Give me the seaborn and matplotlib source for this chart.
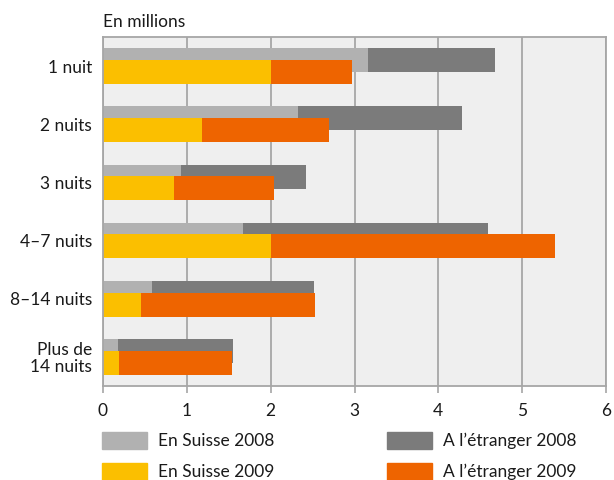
import matplotlib
matplotlib.use('Agg')
import matplotlib.pyplot as plt
import seaborn as sns
import pandas as pd
import numpy as np
from matplotlib.patches import Patch

categories = ['1 nuit', '2 nuits', '3 nuits', '4–7 nuits', '8–14 nuits', 'Plus de\n14 nuits']
suisse_2008 = [3.16, 2.33, 0.93, 1.67, 0.58, 0.18]
etranger_2008 = [1.52, 1.95, 1.49, 2.92, 1.94, 1.37]
suisse_2009 = [2.00, 1.18, 0.85, 2.00, 0.45, 0.19]
etranger_2009 = [0.97, 1.51, 1.19, 3.39, 2.08, 1.35]
x_ticks = [0, 1, 2, 3, 4, 5, 6]

col_s08 = '#b1b1b1'
col_e08 = '#7b7b7b'
col_s09 = '#fbbf00'
col_e09 = '#ee6400'
grid_col = '#a6a6a6'
text_col = '#1a1a1a'
fs = 12.5

sns.set_style("ticks")
plt.rcParams['font.family'] = ['Lato', 'DejaVu Sans']
plt.rcParams['font.size'] = fs

idx = np.arange(len(categories))
df = pd.DataFrame({
    'pos08': idx - 0.1,
    'pos09': idx + 0.1,
    'tot08': np.array(suisse_2008) + np.array(etranger_2008),
    's08': suisse_2008,
    'tot09': np.array(suisse_2009) + np.array(etranger_2009),
    's09': suisse_2009,
})

fig = plt.figure(figsize=(6.14, 4.8), dpi=100)
ax = fig.add_axes([103 / 614, 1 - 386 / 480, 503 / 614, 349 / 480])
ax.set_facecolor('#efefef')
ax.set_axisbelow(True)

bar_h = 0.414
# stacked bars: draw totals first, swiss part on top; 2009 row overlaps 2008 row
for xcol, ycol, c in [('tot08', 'pos08', col_e08), ('s08', 'pos08', col_s08),
                      ('tot09', 'pos09', col_e09), ('s09', 'pos09', col_s09)]:
    sns.barplot(data=df, x=xcol, y=ycol, orient='h', native_scale=True, width=bar_h,
                color=c, saturation=1, errorbar=None, linewidth=0, ax=ax)

ax.set_xlim(0, 6)
ax.set_ylim(5.5, -0.5)
ax.set_xticks(x_ticks)
ax.set_xticklabels([str(t) for t in x_ticks], color=text_col, fontsize=fs)
ax.set_yticks(idx)
ax.set_yticklabels(categories, color=text_col, fontsize=fs, linespacing=1.05)
ax.tick_params(axis='y', length=0, pad=8)
ax.tick_params(axis='x', length=5, width=1.2, color=grid_col, pad=7)
ax.xaxis.grid(True, color=grid_col, linewidth=1.3)
ax.yaxis.grid(False)
for sp in ax.spines.values():
    sp.set_visible(True)
    sp.set_color(grid_col)
    sp.set_linewidth(1.3)
ax.set_xlabel('')
ax.set_ylabel('')

fig.text(103 / 614, 1 - 30 / 480, 'En millions', ha='left', va='bottom',
         color=text_col, fontsize=fs)

handles = [Patch(color=col_s08), Patch(color=col_s09), Patch(color=col_e08), Patch(color=col_e09)]
labels = ['En Suisse 2008', 'En Suisse 2009', 'A l’étranger 2008', 'A l’étranger 2009']
fig.legend(handles, labels, ncol=2, loc='upper left', bbox_to_anchor=(102 / 614, 1 - 432 / 480),
           frameon=False, fontsize=fs, handlelength=2.6, handleheight=1.1, handletextpad=0.63,
           columnspacing=6.5, labelspacing=0.8, borderpad=0, borderaxespad=0, labelcolor=text_col)

fig.savefig('out.png', dpi=100)
